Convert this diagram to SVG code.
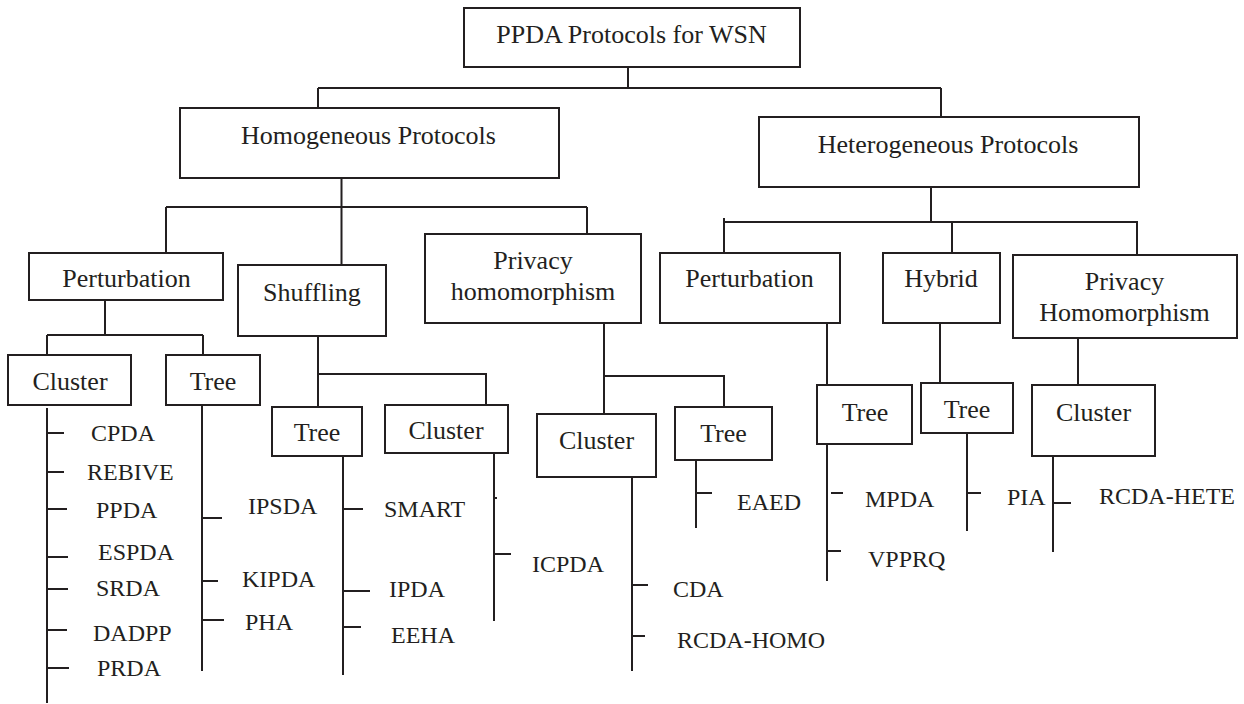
<svg xmlns="http://www.w3.org/2000/svg" width="1244" height="704" viewBox="0 0 1244 704">
  <style>
    .box { fill: #ffffff; stroke: #231f20; stroke-width: 2; }
    .ln { fill: none; stroke: #231f20; stroke-width: 2; }
    .lbl { font-family: "Liberation Serif", "Times New Roman", serif; font-size: 26px; fill: #231f20; text-anchor: middle; }
    .item { font-family: "Liberation Serif", "Times New Roman", serif; font-size: 24px; fill: #231f20; }
  </style>
  <rect width="1244" height="704" fill="#ffffff"/>

  <!-- tree connectors and list ticks -->
  <g id="connectors" class="ln">
    <!-- root to the two protocol families -->
    <path d="M628 67 V88 M318 88 H941 M318 88 V108 M941 88 V117"/>
    <!-- homogeneous branches -->
    <path d="M341.5 178 V207 M166 207 H587 M166 207 V253 M341.5 207 V265 M587 207 V234"/>
    <path d="M105 300 V335 M47 335 H203 M47 335 V355 M203 335 V355"/>
    <path d="M318 336 V407 M318 374 H486 V405"/>
    <path d="M604 323 V414 M604 376 H724 V407"/>
    <!-- heterogeneous branches -->
    <path d="M931 187 V222 M724 218 V253 M724 222 H1137 V255 M952 222 V253"/>
    <path d="M827 323 V385 M940 323 V383 M1078 338 V385"/>
    <!-- protocol lists -->
    <path d="M47 408 V703 M47 433 H64 M47 472 H64 M47 509 H67 M47 557 H68 M47 589 H68 M47 630 H67 M47 668 H69"/>
    <path d="M202 405 V671 M202 518 H222 M202 581 H218 M202 620 H224"/>
    <path d="M343 456 V675 M343 509 H363 M343 591 H370 M343 627 H361"/>
    <path d="M494 453 V621 M494 498 H497 M494 554 H511"/>
    <path d="M632 477 V671 M632 585 H648 M632 636 H645"/>
    <path d="M696 460 V528 M696 493 H712"/>
    <path d="M827 444 V581 M831 493 H843 M827 551 H841"/>
    <path d="M967 433 V531 M967 493 H981"/>
    <path d="M1053 456 V552 M1053 503 H1071"/>
  </g>

  <g id="root">
    <rect class="box" x="464" y="8" width="336" height="59"/>
    <text class="lbl" x="631.5" y="43">PPDA Protocols for WSN</text>
  </g>
  <g id="homogeneous">
    <rect class="box" x="180" y="108" width="379" height="70"/>
    <text class="lbl" x="368.5" y="144">Homogeneous Protocols</text>
  </g>
  <g id="heterogeneous">
    <rect class="box" x="759" y="117" width="380" height="70"/>
    <text class="lbl" x="948" y="153">Heterogeneous Protocols</text>
  </g>

  <!-- homogeneous categories -->
  <g id="homo-perturbation">
    <rect class="box" x="29" y="253" width="194" height="47"/>
    <text class="lbl" x="126.5" y="287">Perturbation</text>
  </g>
  <g id="homo-shuffling">
    <rect class="box" x="238" y="265" width="148" height="71"/>
    <text class="lbl" x="312" y="301">Shuffling</text>
  </g>
  <g id="homo-privacy">
    <rect class="box" x="425" y="234" width="216" height="89"/>
    <text class="lbl" x="533" y="269">Privacy</text>
    <text class="lbl" x="533" y="300">homomorphism</text>
  </g>
  <g id="homo-pert-cluster">
    <rect class="box" x="8" y="355" width="123" height="50"/>
    <text class="lbl" x="70" y="390">Cluster</text>
  </g>
  <g id="homo-pert-tree">
    <rect class="box" x="166" y="355" width="94" height="50"/>
    <text class="lbl" x="213" y="390">Tree</text>
  </g>
  <g id="homo-shuf-tree">
    <rect class="box" x="272" y="407" width="90" height="49"/>
    <text class="lbl" x="317" y="441">Tree</text>
  </g>
  <g id="homo-shuf-cluster">
    <rect class="box" x="385" y="405" width="123" height="48"/>
    <text class="lbl" x="446" y="439">Cluster</text>
  </g>
  <g id="homo-ph-cluster">
    <rect class="box" x="537" y="414" width="119" height="63"/>
    <text class="lbl" x="596.5" y="449">Cluster</text>
  </g>
  <g id="homo-ph-tree">
    <rect class="box" x="675" y="407" width="97" height="53"/>
    <text class="lbl" x="723.5" y="442">Tree</text>
  </g>

  <!-- heterogeneous categories -->
  <g id="hete-perturbation">
    <rect class="box" x="660" y="253" width="180" height="70"/>
    <text class="lbl" x="749.5" y="287">Perturbation</text>
  </g>
  <g id="hete-hybrid">
    <rect class="box" x="883" y="253" width="117" height="70"/>
    <text class="lbl" x="941" y="287">Hybrid</text>
  </g>
  <g id="hete-privacy">
    <rect class="box" x="1013" y="255" width="224" height="83"/>
    <text class="lbl" x="1124.5" y="290">Privacy</text>
    <text class="lbl" x="1124.5" y="321">Homomorphism</text>
  </g>
  <g id="hete-pert-tree">
    <rect class="box" x="817" y="385" width="95" height="59"/>
    <text class="lbl" x="865" y="421">Tree</text>
  </g>
  <g id="hete-hybrid-tree">
    <rect class="box" x="921" y="383" width="92" height="50"/>
    <text class="lbl" x="967" y="418">Tree</text>
  </g>
  <g id="hete-ph-cluster">
    <rect class="box" x="1032" y="385" width="123" height="71"/>
    <text class="lbl" x="1093.5" y="421">Cluster</text>
  </g>

  <!-- protocol names -->
  <g id="list-homo-pert-cluster" class="item">
    <text x="91" y="441">CPDA</text>
    <text x="87" y="480">REBIVE</text>
    <text x="96" y="518">PPDA</text>
    <text x="98" y="560">ESPDA</text>
    <text x="96" y="596">SRDA</text>
    <text x="93" y="641">DADPP</text>
    <text x="97" y="676">PRDA</text>
  </g>
  <g id="list-homo-pert-tree" class="item">
    <text x="248" y="514">IPSDA</text>
    <text x="242" y="587">KIPDA</text>
    <text x="245" y="630">PHA</text>
  </g>
  <g id="list-homo-shuf-tree" class="item">
    <text x="384" y="517">SMART</text>
    <text x="389" y="597">IPDA</text>
    <text x="391" y="643">EEHA</text>
  </g>
  <g id="list-homo-shuf-cluster" class="item">
    <text x="532" y="572">ICPDA</text>
  </g>
  <g id="list-homo-ph-cluster" class="item">
    <text x="673" y="597">CDA</text>
    <text x="677" y="648">RCDA-HOMO</text>
  </g>
  <g id="list-homo-ph-tree" class="item">
    <text x="737" y="510">EAED</text>
  </g>
  <g id="list-hete-pert-tree" class="item">
    <text x="865" y="507">MPDA</text>
    <text x="868" y="567">VPPRQ</text>
  </g>
  <g id="list-hete-hybrid-tree" class="item">
    <text x="1007" y="505">PIA</text>
  </g>
  <g id="list-hete-ph-cluster" class="item">
    <text x="1099" y="504">RCDA-HETE</text>
  </g>
</svg>
